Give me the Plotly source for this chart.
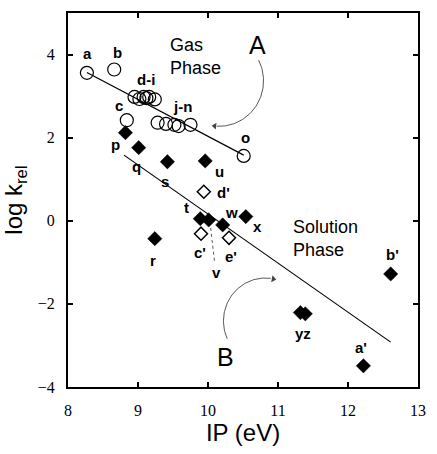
import numpy as np
import plotly.graph_objects as go

# ---------------- data ----------------
# Gas phase, open circles: a, b, c, d..i, j..n, o
gas_ip = [8.27, 8.66, 8.84, 8.95, 9.02, 9.08, 9.12, 9.16, 9.24,
          9.28, 9.40, 9.52, 9.58, 9.75, 10.51]
gas_logk = [3.56, 3.64, 2.42, 2.98, 2.93, 2.98, 2.95, 2.98, 2.92,
            2.36, 2.33, 2.31, 2.28, 2.31, 1.56]
gas_label_text = ["a", "b", "c", "d-i", "j-n", "o"]
gas_label_members = [[0], [1], [2], [3, 4, 5, 6, 7, 8], [9, 10, 11, 12, 13], [14]]

# Solution phase, filled diamonds
sol_ip = [8.82, 9.01, 9.24, 9.42, 9.89, 9.96, 10.01, 10.21, 10.54,
          11.32, 11.39, 12.22, 12.61]
sol_logk = [2.12, 1.76, -0.43, 1.42, 0.05, 1.44, 0.02, -0.10, 0.10,
            -2.21, -2.24, -3.49, -1.28]
sol_label_text = ["p", "q", "r", "s", "t", "u", "v", "w", "x", "yz", "a'", "b'"]
sol_label_members = [[0], [1], [2], [3], [4], [5], [6], [7], [8], [9, 10], [11], [12]]

# Solution phase, open diamonds
open_ip = [9.90, 9.94, 10.30]
open_logk = [-0.31, 0.70, -0.41]
open_label_text = ["c'", "d'", "e'"]

# Fitted lines (end points)
gas_fit_ip = [8.27, 10.51]
gas_fit_logk = [3.57, 1.58]
sol_fit_ip = [8.80, 12.61]
sol_fit_logk = [1.58, -2.92]

x_ticks = [8, 9, 10, 11, 12, 13]
y_ticks = [-4, -2, 0, 2, 4]

# ---------------- layout geometry ----------------
W, H = 437, 454
L, R, T, B = 68, 426, 13, 387
XR = (8, 13)
YR = (-4, 5)


def px2x(px):
    return XR[0] + (px - L) / (R - L) * (XR[1] - XR[0])


def py2y(py):
    return YR[1] - (py - T) / (B - T) * (YR[1] - YR[0])


def x2px(x):
    return L + (x - XR[0]) / (XR[1] - XR[0]) * (R - L)


def y2py(y):
    return T + (YR[1] - y) / (YR[1] - YR[0]) * (B - T)


# label offsets in pixels (right, up)
gas_offsets = {"a": (1, 19), "b": (3, 17), "c": (-8, 15), "d-i": (1, 18),
               "j-n": (9, 18), "o": (2, 18)}
sol_offsets = {"p": (-10, -12), "q": (-2, -19), "r": (-2, -22), "s": (-2, -20),
               "t": (-14, 11), "u": (14, -11), "v": (8, -53), "w": (9, 12),
               "x": (12, -10), "yz": (0, -20), "a'": (-2, 18), "b'": (2, 19)}
open_offsets = {"c'": (-1, -19), "d'": (20, -1), "e'": (2, -19)}

fig = go.Figure()

# fit lines
fig.add_trace(go.Scatter(x=gas_fit_ip, y=gas_fit_logk, mode="lines",
                         line=dict(color="black", width=1.2), hoverinfo="skip"))
fig.add_trace(go.Scatter(x=sol_fit_ip, y=sol_fit_logk, mode="lines",
                         line=dict(color="black", width=1.2), hoverinfo="skip"))


# curved arrows (decorations), computed in pixel space
def arc(cx, cy, r, a0, a1, n=60):
    t = np.radians(np.linspace(a0, a1, n))
    px = cx + r * np.cos(t)
    py = cy + r * np.sin(t)
    return [px2x(p) for p in px], [py2y(p) for p in py]


ax_, ay_ = arc(222.5, 80.8, 45.5, -27, 93.0)
fig.add_trace(go.Scatter(x=ax_, y=ay_, mode="lines",
                         line=dict(color="#444", width=0.9), hoverinfo="skip"))
bx_, by_ = arc(270.0, 321.0, 43.0, 155.5, 277.0)
fig.add_trace(go.Scatter(x=bx_, y=by_, mode="lines",
                         line=dict(color="#444", width=0.9), hoverinfo="skip"))
# arrowheads at the ends of the arcs
fig.add_trace(go.Scatter(x=[px2x(218)], y=[py2y(126)], mode="markers",
                         marker=dict(symbol="triangle-left", size=6, angle=6,
                                     color="#444", line=dict(width=0)),
                         hoverinfo="skip"))
fig.add_trace(go.Scatter(x=[px2x(278)], y=[py2y(279)], mode="markers",
                         marker=dict(symbol="triangle-right", size=6, angle=10,
                                     color="#444", line=dict(width=0)),
                         hoverinfo="skip"))

# dotted pointer for v
vx, vy = sol_ip[6], sol_logk[6]
vpx, vpy = x2px(vx), y2py(vy)
fig.add_trace(go.Scatter(x=[px2x(vpx + 2), px2x(vpx + 6)],
                         y=[py2y(vpy + 8), py2y(vpy + 42)], mode="lines",
                         line=dict(color="#444", width=0.9, dash="dot"),
                         hoverinfo="skip"))

# markers
fig.add_trace(go.Scatter(x=gas_ip, y=gas_logk, mode="markers",
                         marker=dict(symbol="circle-open", size=13, color="black",
                                     line=dict(color="black", width=1.2)),
                         hoverinfo="skip"))
fig.add_trace(go.Scatter(x=sol_ip, y=sol_logk, mode="markers",
                         marker=dict(symbol="diamond", size=11, color="black",
                                     line=dict(color="black", width=0.5)),
                         hoverinfo="skip"))
fig.add_trace(go.Scatter(x=open_ip, y=open_logk, mode="markers",
                         marker=dict(symbol="diamond-open", size=10, color="black",
                                     line=dict(color="black", width=1.5)),
                         hoverinfo="skip"))

annotations = []
lab_font = dict(family="Liberation Sans", size=15, color="black")


def add_labels(texts, members, xs, ys, offsets):
    for txt, mem in zip(texts, members):
        mx = float(np.mean([xs[i] for i in mem]))
        my = float(np.mean([ys[i] for i in mem]))
        dx, dy = offsets[txt]
        annotations.append(dict(x=mx, y=my, xref="x", yref="y", text="<b>%s</b>" % txt,
                                showarrow=False, xshift=dx, yshift=dy,
                                xanchor="center", yanchor="middle", font=lab_font))


add_labels(gas_label_text, gas_label_members, gas_ip, gas_logk, gas_offsets)
add_labels(sol_label_text, sol_label_members, sol_ip, sol_logk, sol_offsets)
add_labels(open_label_text, [[0], [1], [2]], open_ip, open_logk, open_offsets)

txt_font = dict(family="Liberation Sans", size=18, color="black")
big_font = dict(family="Liberation Sans", size=25, color="black")


def paper_x(px):
    return (px - L) / (R - L)


def paper_y(py):
    return (B - py) / (B - T)


annotations += [
    dict(x=paper_x(170), y=paper_y(33), xref="paper", yref="paper", text="Gas<br>Phase",
         showarrow=False, xanchor="left", yanchor="top", align="left", font=txt_font),
    dict(x=paper_x(296), y=paper_y(215), xref="paper", yref="paper",
         text="Solution<br>Phase", showarrow=False, xanchor="left", yanchor="top",
         align="left", font=txt_font),
    dict(x=paper_x(262), y=paper_y(45), xref="paper", yref="paper", text="A",
         showarrow=False, xanchor="center", yanchor="middle", font=big_font),
    dict(x=paper_x(229), y=paper_y(357), xref="paper", yref="paper", text="B",
         showarrow=False, xanchor="center", yanchor="middle", font=big_font),
]

tick_font = dict(family="Liberation Serif", size=16, color="black")
title_font = dict(family="Liberation Sans", size=24, color="black")

fig.update_layout(
    width=W, height=H,
    margin=dict(l=L, r=W - R, t=T, b=H - B, pad=0),
    paper_bgcolor="white", plot_bgcolor="white",
    showlegend=False,
    annotations=annotations,
    xaxis=dict(range=list(XR), tickvals=x_ticks, ticks="inside", ticklen=5, tickwidth=1.5,
               tickcolor="black", showline=True, linecolor="black", linewidth=2,
               mirror="ticks", showgrid=False, zeroline=False, tickfont=tick_font,
               ticklabelstandoff=8,
               title=dict(text="IP (eV)", font=title_font, standoff=6)),
    yaxis=dict(range=list(YR), tickvals=y_ticks, ticks="inside", ticklen=5, tickwidth=1.5,
               tickcolor="black", showline=True, linecolor="black", linewidth=2,
               mirror="ticks", showgrid=False, zeroline=False, tickfont=tick_font,
               ticklabelstandoff=8,
               title=dict(text="log k<sub>rel</sub>", font=title_font, standoff=8)),
)

fig.write_html("out.html", config={"displayModeBar": False},
               post_script="document.body.style.margin='0';")
